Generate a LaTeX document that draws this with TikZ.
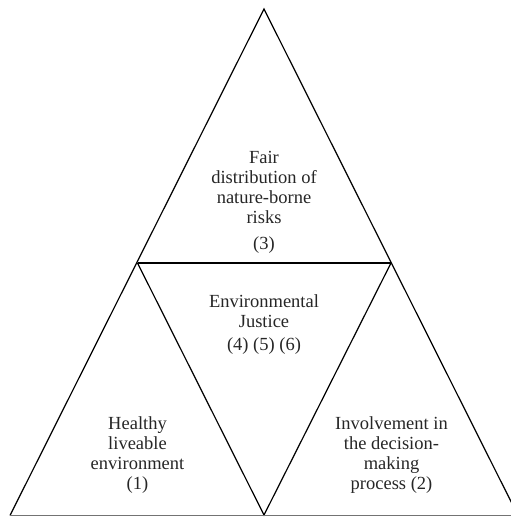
\documentclass[tikz,border=0pt]{standalone}
\usepackage{fontspec}
\setmainfont{Liberation Serif}
\usetikzlibrary{positioning}

\begin{document}
\begin{tikzpicture}[x=1pt,y=1pt,
    edge/.style={draw,line width=1.2pt,line join=miter},
    base/.style={draw=black!55,line width=1pt},
    label/.style={align=center,inner sep=0pt,font={\fontsize{18.5}{20}\selectfont},text=black!85}]
    
    \useasboundingbox (0,0) rectangle (511,517);
    \clip (0,0) rectangle (511,517);
    
    \coordinate (top) at (264,508);
    \coordinate (ml) at (137.5,254);
    \coordinate (mr) at (391,254);
    \coordinate (bc) at (264,2);
    \coordinate (bl) at (10,1.5);
    \coordinate (br) at (518,1.5);
    
    \draw[edge] (bl) -- (top) -- (br);
    \draw[edge] (ml) -- (mr);
    \draw[edge] (ml) -- (bc) -- (mr);
    \draw[base] (bl) -- (br);
    
    \node[label] (risk) at (264,315) {Fair\\distribution of\\nature-borne\\risks\\[6pt](3)};
    \node[label] (ej) at (264,192) {Environmental\\Justice\\[3pt](4) (5) (6)};
    \node[label] (health) at (137.5,62) {Healthy\\liveable\\environment\\(1)};
    \node[label] (inv) at (391.5,61.5) {Involvement in\\the decision-\\making\\process (2)};
    
\end{tikzpicture}
\end{document}
